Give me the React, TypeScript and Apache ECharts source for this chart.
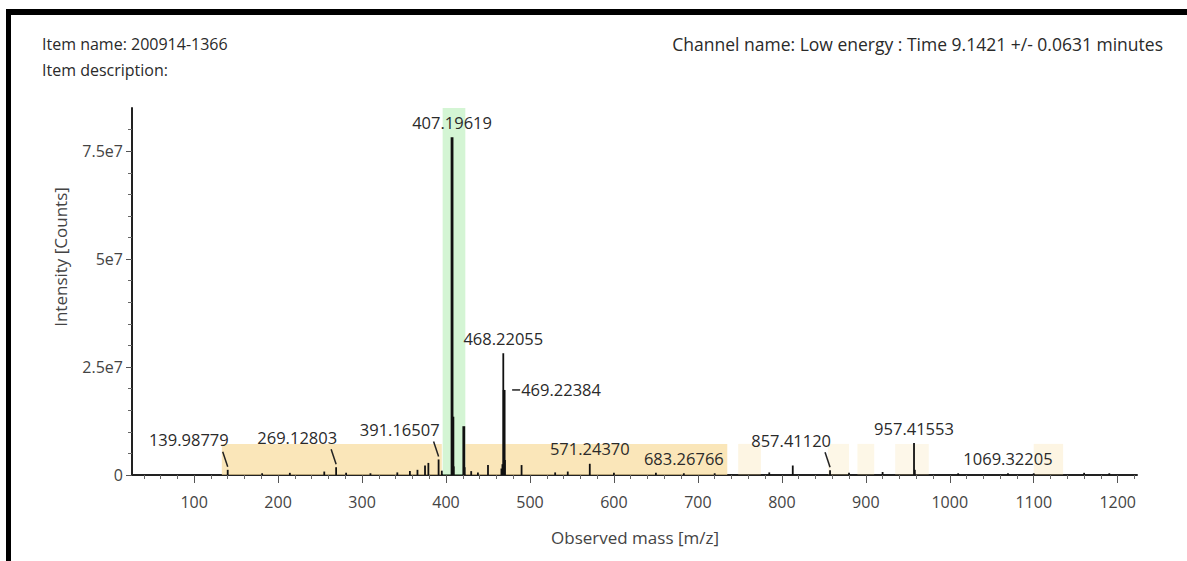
import React, { useEffect, useRef } from 'react';
import * as echarts from 'echarts';

// Spectrum sticks (m/z, intensity)
const peakMasses = [
  139.98779, 181, 214, 255, 269.12803, 281, 310, 342, 357, 366, 375, 379, 391.16507, 395,
  407.19619, 408.2, 409.2, 421.2, 422.2, 430, 438, 450, 466, 467.2, 468.22055, 469.22384,
  470.2, 490, 530, 545, 571.2437, 600, 650, 683.26766, 720, 785, 813, 857.4112, 880, 920,
  957.41553, 958.4, 1010, 1069.32205, 1100, 1160, 1190,
];
const peakIntensities = [
  1.2e6, 0.4e6, 0.5e6, 0.8e6, 1.8e6, 0.5e6, 0.4e6, 0.6e6, 0.9e6, 1.2e6, 2.2e6, 2.8e6, 3.6e6, 1.0e6,
  7.82e7, 1.35e7, 2.0e6, 1.13e7, 1.8e6, 0.9e6, 0.6e6, 2.3e6, 1.5e6, 2.5e6, 2.82e7, 1.97e7,
  3.5e6, 2.3e6, 0.6e6, 0.8e6, 2.6e6, 0.5e6, 0.5e6, 0.4e6, 0.4e6, 0.6e6, 2.2e6, 1.1e6, 0.5e6, 0.7e6,
  7.4e6, 1.2e6, 0.4e6, 0.4e6, 0.4e6, 0.5e6, 0.4e6,
];
// sticks drawn with a heavier stroke (style)
const thickPeaks = [407.19619, 469.22384, 408.2, 421.2];

// Annotated peaks
const labeledMasses = [
  139.98779, 269.12803, 391.16507, 407.19619, 468.22055, 469.22384, 571.2437, 683.26766,
  857.4112, 957.41553, 1069.32205,
];
// label placement kind: 'above' | 'leftDiag' | 'rightDash'
const labelKinds = [
  'leftDiag', 'leftDiag', 'leftDiag', 'above', 'above', 'rightDash', 'above', 'above',
  'leftDiag', 'above', 'above',
];

// Shaded (yellow) regions and highlighted (green) region, m/z
const bandStarts = [133, 423, 748, 855, 890, 935, 1100];
const bandEnds = [395, 735, 775, 880, 910, 975, 1135];
const bandTop = 7.2e6;
const bandStrength = [0.7, 0.7, 0.28, 0.24, 0.24, 0.22, 0.28];
const highlightRange = [396, 423];

const xMajorTicks = [100, 200, 300, 400, 500, 600, 700, 800, 900, 1000, 1100, 1200];
const xMinorTicks = [
  40, 60, 80, 120, 140, 160, 180, 220, 240, 260, 280, 320, 340, 360, 380, 420, 440, 460, 480,
  520, 540, 560, 580, 620, 640, 660, 680, 720, 740, 760, 780, 820, 840, 860, 880, 920, 940,
  960, 980, 1020, 1040, 1060, 1080, 1120, 1140, 1160, 1180, 1220,
];
const yMajorTicks = [0, 2.5e7, 5e7, 7.5e7];
const yMinorTicks = [
  5e6, 1e7, 1.5e7, 2e7, 3e7, 3.5e7, 4e7, 4.5e7, 5.5e7, 6e7, 6.5e7, 7e7, 8e7,
];

const X_MIN = 26;
const X_MAX = 1223;
const Y_MAX = 8.5e7;

const FONT = '"Open Sans", "Noto Sans", sans-serif';
const TEXT = '#2a2a2a';

export default function App() {
  const ref = useRef<HTMLDivElement>(null);

  useEffect(() => {
    if (!ref.current) return;
    const chart = echarts.init(ref.current, undefined, { renderer: 'svg' });

    const bandData = bandStarts.map((s, i) => [s, bandEnds[i], bandTop, bandStrength[i], 0]);
    bandData.push([highlightRange[0], highlightRange[1], Y_MAX, 0.4, 1]);

    const stickData = peakMasses.map((m, i) => [m, peakIntensities[i]]);
    const labelData = labeledMasses.map((m) => [m, peakIntensities[peakMasses.indexOf(m)]]);

    const xBase = {
      type: 'value',
      min: X_MIN,
      max: X_MAX,
      gridIndex: 0,
      position: 'bottom',
      splitLine: { show: false },
    };
    const yBase = {
      type: 'value',
      min: 0,
      max: Y_MAX,
      gridIndex: 0,
      position: 'left',
      splitLine: { show: false },
    };

    const option: any = {
      animation: false,
      backgroundColor: '#ffffff',
      grid: { left: 132, right: 50, top: 108, bottom: 86, containLabel: false },
      xAxis: [
        {
          ...xBase,
          axisLine: { show: true, lineStyle: { color: '#222', width: 2 } },
          axisTick: {
            show: true,
            customValues: xMajorTicks,
            length: 8,
            lineStyle: { color: '#555', width: 1 },
          },
          axisLabel: {
            show: true,
            customValues: xMajorTicks,
            fontSize: 16,
            fontFamily: FONT,
            color: '#444',
            margin: 19,
            formatter: (v: number) => String(v),
          },
        },
        {
          ...xBase,
          axisLine: { show: false },
          axisTick: {
            show: true,
            customValues: xMinorTicks,
            length: 4,
            lineStyle: { color: '#666', width: 1 },
          },
          axisLabel: { show: false },
        },
      ],
      yAxis: [
        {
          ...yBase,
          axisLine: { show: true, lineStyle: { color: '#222', width: 2 } },
          axisTick: {
            show: true,
            customValues: yMajorTicks,
            length: 6,
            lineStyle: { color: '#555', width: 1 },
          },
          axisLabel: {
            show: true,
            customValues: yMajorTicks,
            fontSize: 16,
            fontFamily: FONT,
            color: '#444',
            margin: 9,
            formatter: (v: number) => (v === 0 ? '0' : `${v / 1e7}e7`),
          },
        },
        {
          ...yBase,
          axisLine: { show: false },
          axisTick: {
            show: true,
            customValues: yMinorTicks,
            length: 4,
            lineStyle: { color: '#666', width: 1 },
          },
          axisLabel: { show: false },
        },
      ],
      graphic: [
        { type: 'rect', shape: { x: 6, y: 9, width: 1181, height: 6 }, style: { fill: '#000' }, z: 100 },
        { type: 'rect', shape: { x: 6, y: 9, width: 5, height: 552 }, style: { fill: '#000' }, z: 100 },
        {
          type: 'text',
          x: 42,
          y: 44,
          style: { text: 'Item name: 200914-1366', font: `16px ${FONT}`, fill: TEXT, verticalAlign: 'middle', align: 'left' },
        },
        {
          type: 'text',
          x: 42,
          y: 70,
          style: { text: 'Item description:', font: `16px ${FONT}`, fill: TEXT, verticalAlign: 'middle', align: 'left' },
        },
        {
          type: 'text',
          x: 1163,
          y: 44,
          style: {
            text: 'Channel name: Low energy : Time 9.1421 +/- 0.0631 minutes',
            font: `17.5px ${FONT}`,
            fill: TEXT,
            verticalAlign: 'middle',
            align: 'right',
          },
        },
        {
          type: 'text',
          x: 60,
          y: 257,
          rotation: Math.PI / 2,
          style: { text: 'Intensity [Counts]', font: `17px ${FONT}`, fill: '#444', verticalAlign: 'middle', align: 'center' },
        },
        {
          type: 'text',
          x: 635,
          y: 537,
          style: { text: 'Observed mass [m/z]', font: `17px ${FONT}`, fill: '#444', verticalAlign: 'middle', align: 'center' },
        },
      ],
      series: [
        {
          type: 'custom',
          name: 'regions',
          xAxisIndex: 0,
          yAxisIndex: 0,
          z: 1,
          silent: true,
          clip: true,
          data: bandData,
          renderItem: (params: any, api: any) => {
            const p0 = api.coord([api.value(0), 0]);
            const p1 = api.coord([api.value(1), api.value(2)]);
            const strength = api.value(3);
            const isGreen = api.value(4) === 1;
            const fill = isGreen
              ? `rgba(170, 235, 170, ${strength + 0.1})`
              : `rgba(248, 220, 155, ${strength})`;
            return {
              type: 'rect',
              shape: { x: p0[0], y: p1[1], width: p1[0] - p0[0], height: p0[1] - p1[1] },
              style: { fill },
            };
          },
        },
        {
          type: 'custom',
          name: 'spectrum',
          xAxisIndex: 0,
          yAxisIndex: 0,
          z: 3,
          silent: true,
          clip: true,
          data: stickData,
          renderItem: (params: any, api: any) => {
            const m = api.value(0);
            const a = api.coord([m, 0]);
            const b = api.coord([m, api.value(1)]);
            const w = thickPeaks.indexOf(m) >= 0 ? 2.8 : 1.8;
            return {
              type: 'line',
              shape: { x1: a[0], y1: a[1], x2: b[0], y2: b[1] },
              style: { stroke: '#111', lineWidth: w },
            };
          },
        },
        {
          type: 'custom',
          name: 'labels',
          xAxisIndex: 0,
          yAxisIndex: 0,
          z: 5,
          silent: true,
          clip: false,
          data: labelData,
          renderItem: (params: any, api: any) => {
            const m = api.value(0);
            const p = api.coord([m, api.value(1)]);
            const kind = labelKinds[params.dataIndex];
            const text = m.toFixed(5);
            const font = `16.5px ${FONT}`;
            const children: any[] = [];
            if (kind === 'above') {
              children.push({
                type: 'text',
                x: p[0],
                y: p[1] - 15,
                style: { text, font, fill: TEXT, align: 'center', verticalAlign: 'middle' },
              });
            } else if (kind === 'leftDiag') {
              children.push({
                type: 'text',
                x: p[0] + 1,
                y: p[1] - 30,
                style: { text, font, fill: TEXT, align: 'right', verticalAlign: 'middle' },
              });
              children.push({
                type: 'line',
                shape: { x1: p[0] - 5, y1: p[1] - 18, x2: p[0], y2: p[1] - 3 },
                style: { stroke: '#222', lineWidth: 1.5 },
              });
            } else {
              children.push({
                type: 'line',
                shape: { x1: p[0] + 8, y1: p[1], x2: p[0] + 16, y2: p[1] },
                style: { stroke: '#222', lineWidth: 1.5 },
              });
              children.push({
                type: 'text',
                x: p[0] + 17,
                y: p[1],
                style: { text, font, fill: TEXT, align: 'left', verticalAlign: 'middle' },
              });
            }
            return { type: 'group', children };
          },
        },
      ],
    };

    chart.setOption(option);
    return () => chart.dispose();
  }, []);

  return (
    <div
      ref={ref}
      style={{ position: 'absolute', left: 0, top: 0, width: 1187, height: 561, background: '#fff' }}
    />
  );
}
